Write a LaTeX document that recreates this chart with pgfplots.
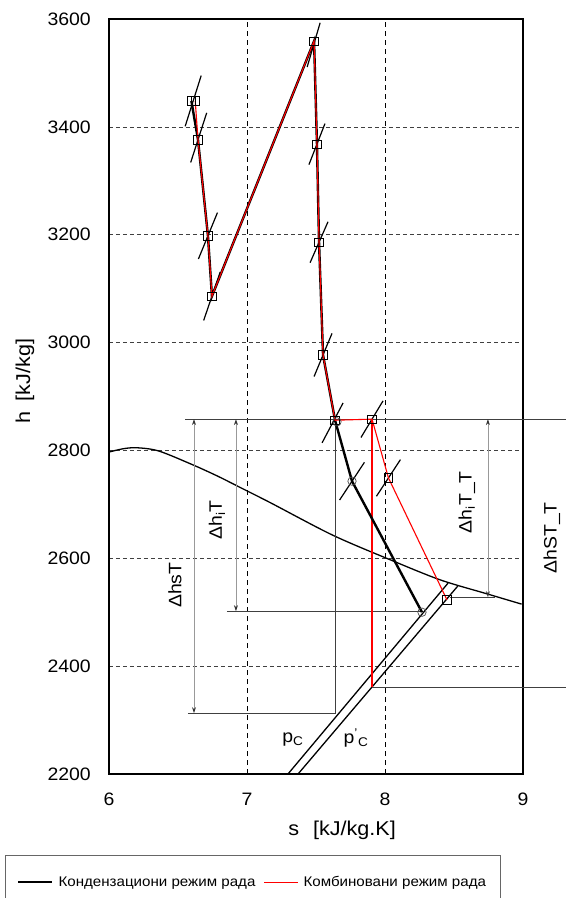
\documentclass[border=0pt]{standalone}
\usepackage{fontspec}
\setmainfont{Liberation Sans}[FakeStretch=1.08]
\usepackage{pgfplots}
\pgfplotsset{compat=1.18}
\usetikzlibrary{arrows.meta}
\begin{document}
\begin{tikzpicture}
\path[use as bounding box] (-109pt,-124pt) rectangle (457pt,774pt);
\begin{axis}[
  scale only axis, width=414pt, height=755pt,
  xmin=6, xmax=9, ymin=2200, ymax=3600,
  clip=false,
  xtick={6,7,8,9}, ytick={2200,2400,...,3600},
  major tick length=0pt,
  xmajorgrids, ymajorgrids,
  x grid style={black, dash pattern=on 5pt off 4pt, line width=0.9pt},
  y grid style={black!75, dash pattern=on 4pt off 3pt, line width=0.7pt},
  axis line style={line width=1.1pt},
  tick label style={font=\fontsize{18}{20}\selectfont, inner sep=0pt},
  /pgf/number format/assume math mode=true,
  /pgf/number format/set thousands separator={},
  yticklabel style={anchor=east, xshift=-18pt},
  xticklabel style={anchor=north, yshift=-19pt},
  xlabel={s\hspace{14pt}[kJ/kg.K]},
  ylabel={h\hspace{10pt}[kJ/kg]},
  label style={font=\fontsize{20}{22}\selectfont},
  xlabel style={at={(axis description cs:0.563,-0.0742)}, anchor=center},
  ylabel style={at={(axis description cs:-0.203,0.5205)}, anchor=center},
  legend style={at={(axis description cs:-0.2512,-0.1073)}, anchor=north west,
    draw=black!60, font=\fontsize{14}{16}\selectfont, legend columns=2,
    inner xsep=12pt, inner ysep=19pt,
    /tikz/every even column/.append style={column sep=6pt},
    /tikz/every odd column/.append style={column sep=3pt}},
  legend cell align=left,
  legend image code/.code={\draw[#1] (0pt,0pt) -- (34pt,0pt);},
]
% legend
\addlegendimage{draw=black, line width=2.4pt}
\addlegendentry{Кондензациони режим рада}
\addlegendimage{draw=red, line width=1.1pt}
\addlegendentry{Комбиновани режим рада}

% saturation curve
\addplot[black, line width=1.3pt, smooth, forget plot] coordinates {
(6.0,2797)(6.1,2803)(6.2,2805)(6.36,2799)(6.61,2773)(6.79,2752)(6.93,2734)
(7.17,2703)(7.62,2643)(8.04,2597)(8.40,2560)(8.74,2534)(8.99,2515)};

% isobars
\addplot[black, line width=1.3pt, forget plot] coordinates {(7.297,2200)(8.457,2554)};
\addplot[black, line width=1.3pt, forget plot] coordinates {(7.370,2200)(8.529,2549)};

% helper lines
\addplot[black!75, line width=1pt, forget plot] coordinates {(6.551,2858)(9.312,2858)};
\addplot[black!75, line width=1pt, forget plot] coordinates {(7.906,2361)(9.312,2361)};
\addplot[black!75, line width=1pt, forget plot] coordinates {(6.572,2313)(7.638,2313)(7.638,2858)};
\addplot[black!75, line width=1pt, forget plot] coordinates {(6.855,2502)(8.268,2502)};
\addplot[black!75, line width=1pt, forget plot] coordinates {(8.471,2528)(8.797,2528)};

% dimension arrows
\addplot[black!40, line width=0.8pt, {Stealth[black!80,length=6pt,width=4pt]}-{Stealth[black!80,length=6pt,width=4pt]}, forget plot] coordinates {(6.616,2858)(6.616,2313)};
\addplot[black!40, line width=0.8pt, {Stealth[black!80,length=6pt,width=4pt]}-{Stealth[black!80,length=6pt,width=4pt]}, forget plot] coordinates {(6.920,2858)(6.920,2502)};
\addplot[black!40, line width=0.8pt, {Stealth[black!80,length=6pt,width=4pt]}-{Stealth[black!80,length=6pt,width=4pt]}, forget plot] coordinates {(8.746,2858)(8.746,2528)};

% isobar slashes
\addplot[black, line width=1.2pt, unbounded coords=jump, forget plot] coordinates {
(6.552,3401)(6.668,3495) (nan,nan)
(6.592,3334)(6.708,3426) (nan,nan)
(6.648,3155)(6.786,3241) (nan,nan)
(6.686,3041)(6.806,3131) (nan,nan)
(7.436,3511)(7.530,3593) (nan,nan)
(7.449,3330)(7.565,3406) (nan,nan)
(7.457,3148)(7.587,3224) (nan,nan)
(7.486,2937)(7.616,3017) (nan,nan)
(7.544,2814)(7.696,2888) (nan,nan)
(7.826,2824)(7.986,2892) (nan,nan)
(7.671,2708)(7.851,2778) (nan,nan)
(7.938,2715)(8.112,2783)};

% red vertical
\addplot[red, line width=1.1pt, forget plot] coordinates {(7.906,2858)(7.906,2361)};

% main lines
\addplot[black, line width=2.4pt, forget plot] coordinates {
(6.597,3448)(6.645,3376)(6.717,3198)(6.746,3086)(7.486,3559)(7.507,3368)
(7.522,3186)(7.551,2977)(7.638,2856)(7.761,2743)(8.268,2500)};
\addplot[red, line width=1.1pt, forget plot] coordinates {
(6.625,3448)(6.645,3376)(6.717,3198)(6.746,3086)(7.486,3559)(7.507,3368)
(7.522,3186)(7.551,2977)(7.638,2856)(7.906,2858)(8.025,2749)(8.449,2523)};

% markers
\addplot[only marks, mark=square, mark size=4.2pt, mark options={black, line width=0.8pt}, forget plot] coordinates {
(6.597,3448)(6.625,3448)(6.645,3376)(6.717,3198)(6.746,3086)(7.486,3559)(7.507,3368)
(7.522,3186)(7.551,2977)(7.638,2856)(7.906,2858)(8.025,2749)(8.449,2523)};
\addplot[only marks, mark=o, mark size=4.2pt, mark options={black!70, line width=0.7pt}, forget plot] coordinates {
(7.652,2853)(7.761,2743)(8.268,2500)};

% labels
\node[rotate=90, font=\fontsize{18}{20}\selectfont] at (axis cs:6.478,2550) {ΔhsT};
\node[rotate=90, font=\fontsize{18}{20}\selectfont] at (axis cs:6.783,2671) {Δh\textsubscript{i}T};
\node[rotate=90, font=\fontsize{18}{20}\selectfont] at (axis cs:8.594,2704) {Δh\textsubscript{i}T\_T};
\node[rotate=90, font=\fontsize{18}{20}\selectfont] at (axis cs:9.210,2638) {ΔhST\_T};
\node[font=\fontsize{18}{20}\selectfont] at (axis cs:7.333,2263) {p\textsubscript{C}};
\node[font=\fontsize{18}{20}\selectfont] at (axis cs:7.790,2267) {p\textsuperscript{'}\textsubscript{C}};
\end{axis}
\end{tikzpicture}
\end{document}
